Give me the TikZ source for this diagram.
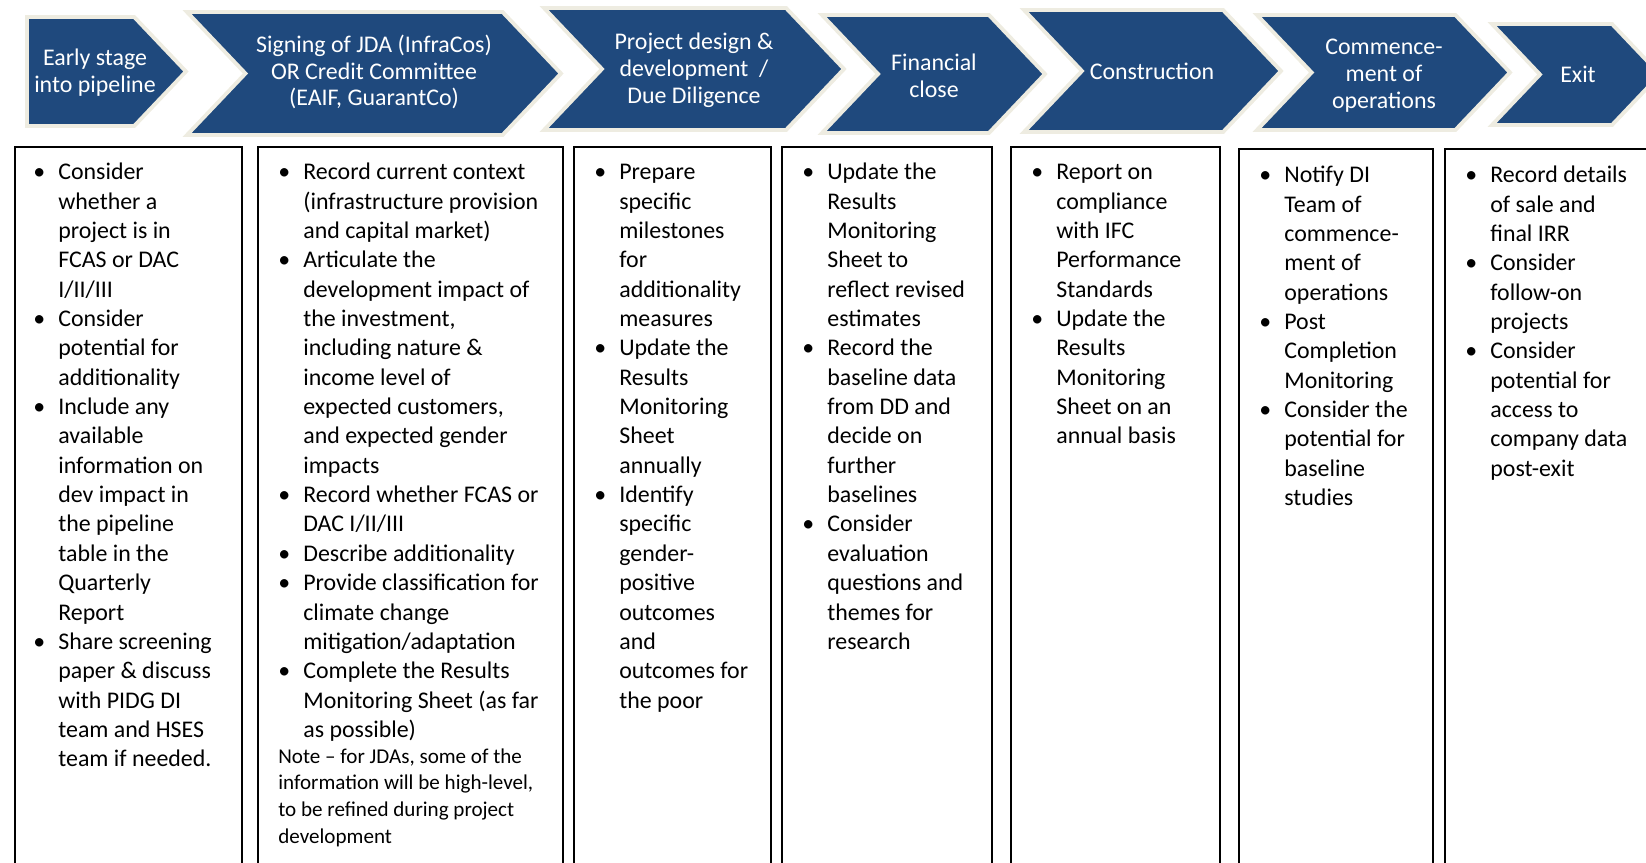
\documentclass[tikz,border=0pt]{standalone}
\usepackage{fontspec}
\setmainfont{Carlito}
\usetikzlibrary{positioning}

\definecolor{stageblue}{HTML}{1F497D}
\definecolor{stagerim}{HTML}{EEECE1}

\newcommand{\stage}[5]{%
  \pgfmathsetmacro{\chevm}{(#3+#4)/2}%
  \pgfmathsetmacro{\chevd}{0.95*(#4-#3)/2}%
  \filldraw[stageshape] (#1,#3) -- ({#2-\chevd},#3) -- (#2,\chevm) -- ({#2-\chevd},#4)
    -- (#1,#4) -- ({#1+#5*\chevd},\chevm) -- cycle;}
\newcommand{\bl}{\textbullet &}

\begin{document}
\begin{tikzpicture}[x=0.02cm, y=-0.02cm,
    stageshape/.style={fill=stageblue, draw=stagerim, line width=2.2pt},
    stagetext/.style={text=white, align=center, inner sep=0pt,
      font=\fontsize{13.6}{15.3}\selectfont},
    frame/.style={draw=black, line width=1pt},
    col/.style={anchor=north west, inner sep=0pt,
      font=\fontsize{13.6}{16.7}\selectfont},
    note/.style={inner sep=0pt, align=left,
      font=\fontsize{12}{15.2}\selectfont}]
  \useasboundingbox (0,0) rectangle (1646,862);
  \clip (0,0) rectangle (1646,862);

  \stage{27}{186}{17}{126}{0}
  \stage{187}{561}{12}{135}{1}
  \stage{544}{844}{8}{130}{1}
  \stage{822}{1045}{15}{133}{1}
  \stage{1024}{1281}{10}{132}{1}
  \stage{1257}{1510}{15}{130}{1}
  \stage{1492}{1660}{24}{125}{1}

  \node[stagetext] (s1) at (95,73) {Early stage\\into pipeline};
  \node[stagetext] (s2) at (374,72) {Signing of JDA (InfraCos)\\OR Credit Committee\\(EAIF, GuarantCo)};
  \node[stagetext] (s3) at (694,70) {Project design \&\\development~~/\\Due Diligence};
  \node[stagetext] (s4) at (934,76) {Financial\\close};
  \node[stagetext] (s5) at (1152,71) {Construction};
  \node[stagetext] (s6) at (1384,76) {Commence-\\ment of\\operations};
  \node[stagetext] (s7) at (1578,74) {Exit};

  \draw[frame] (15,147) rectangle (242,880);
  \draw[frame] (258,147) rectangle (563,880);
  \draw[frame] (574,147) rectangle (771,880);
  \draw[frame] (782,147) rectangle (992,880);
  \draw[frame] (1011,147) rectangle (1220,880);
  \draw[frame] (1239,149) rectangle (1433,880);
  \draw[frame] (1445,149) rectangle (1700,880);

  \node[col] (t1) at (33,159) {\begin{tabular}{@{}p{0.5cm}@{}l@{}}
    \bl Consider\\ & whether a\\ & project is in\\ & FCAS or DAC\\ & I/II/III\\
    \bl Consider\\ & potential for\\ & additionality\\
    \bl Include any\\ & available\\ & information on\\ & dev impact in\\ & the pipeline\\
      & table in the\\ & Quarterly\\ & Report\\
    \bl Share screening\\ & paper \& discuss\\ & with PIDG DI\\ & team and HSES\\
      & team if needed.
  \end{tabular}};
  \node[col] (t2) at (278,159) {\begin{tabular}{@{}p{0.5cm}@{}l@{}}
    \bl Record current context\\ & (infrastructure provision\\ & and capital market)\\
    \bl Articulate the\\ & development impact of\\ & the investment,\\
      & including nature \&\\ & income level of\\ & expected customers,\\
      & and expected gender\\ & impacts\\
    \bl Record whether FCAS or\\ & DAC I/II/III\\
    \bl Describe additionality\\
    \bl Provide classification for\\ & climate change\\ & mitigation/adaptation\\
    \bl Complete the Results\\ & Monitoring Sheet (as far\\ & as possible)
  \end{tabular}};
  \node[note, below right=1pt and 0pt of t2.south west] (n2)
    {Note -- for JDAs, some of the\\information will be high-level,\\
     to be refined during project\\development};
  \node[col] (t3) at (594,159) {\begin{tabular}{@{}p{0.5cm}@{}l@{}}
    \bl Prepare\\ & specific\\ & milestones\\ & for\\ & additionality\\ & measures\\
    \bl Update the\\ & Results\\ & Monitoring\\ & Sheet\\ & annually\\
    \bl Identify\\ & specific\\ & gender-\\ & positive\\ & outcomes\\ & and\\
      & outcomes for\\ & the poor
  \end{tabular}};
  \node[col] (t4) at (802,159) {\begin{tabular}{@{}p{0.5cm}@{}l@{}}
    \bl Update the\\ & Results\\ & Monitoring\\ & Sheet to\\ & reflect revised\\ & estimates\\
    \bl Record the\\ & baseline data\\ & from DD and\\ & decide on\\ & further\\ & baselines\\
    \bl Consider\\ & evaluation\\ & questions and\\ & themes for\\ & research
  \end{tabular}};
  \node[col] (t5) at (1031,159) {\begin{tabular}{@{}p{0.5cm}@{}l@{}}
    \bl Report on\\ & compliance\\ & with IFC\\ & Performance\\ & Standards\\
    \bl Update the\\ & Results\\ & Monitoring\\ & Sheet on an\\ & annual basis
  \end{tabular}};
  \node[col] (t6) at (1259,162) {\begin{tabular}{@{}p{0.5cm}@{}l@{}}
    \bl Notify DI\\ & Team of\\ & commence-\\ & ment of\\ & operations\\
    \bl Post\\ & Completion\\ & Monitoring\\
    \bl Consider the\\ & potential for\\ & baseline\\ & studies
  \end{tabular}};
  \node[col] (t7) at (1465,162) {\begin{tabular}{@{}p{0.5cm}@{}l@{}}
    \bl Record details\\ & of sale and\\ & final IRR\\
    \bl Consider\\ & follow-on\\ & projects\\
    \bl Consider\\ & potential for\\ & access to\\ & company data\\ & post-exit
  \end{tabular}};
\end{tikzpicture}
\end{document}
